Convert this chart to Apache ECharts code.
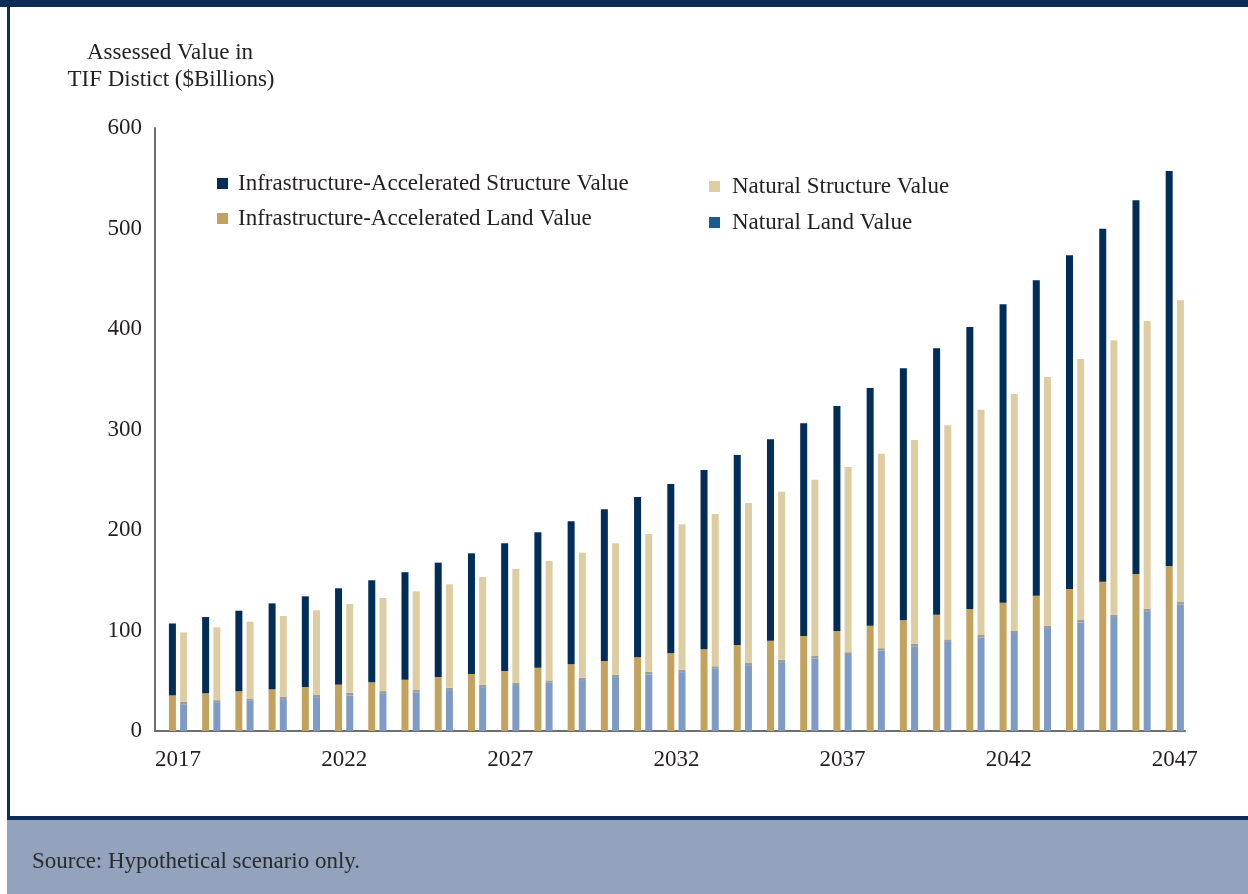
<!DOCTYPE html>
<html><head><meta charset="utf-8">
<script src="https://cdn.jsdelivr.net/npm/echarts@6/dist/echarts.min.js"></script>
<style>html,body{margin:0;padding:0;background:#fff}#c{width:1248px;height:894px}</style>
</head><body><div id="c"></div>
<script>
const years = ['2017','2018','2019','2020','2021','2022','2023','2024','2025','2026','2027','2028','2029','2030','2031','2032','2033','2034','2035','2036','2037','2038','2039','2040','2041','2042','2043','2044','2045','2046','2047'];
const xTickLabels = ['2017','2022','2027','2032','2037','2042','2047'];
const accLand = [35.4,37.5,39.5,41.5,43.8,46.1,48.5,51,53.7,56.7,59.7,63,66.4,69.7,73.3,77.3,81.3,85.6,89.9,94.5,99.5,104.8,110.1,115.7,121.4,127.7,134.6,141.3,148.6,156.2,164.2];
const accStructure = [71.6,75.9,80.2,85.5,90.2,95.9,101.5,107,113.8,120.1,127.1,134.7,142.3,150.9,159.5,168.5,178.4,189,200.3,211.7,223.9,236.5,250.8,265.1,280.6,296.9,313.9,332,351.2,371.8,393];
const natLand = [26,28,30,31.7,33.7,35.3,37,38.3,40.7,43.7,45.7,48,50.7,53.7,56.3,58.6,62,65.5,68.5,72,75.6,80,84.3,88.6,93,97.5,102.5,108,113.4,119.1,125.7];
const natLandCap = [3,2.7,2.3,2.6,2.3,2.7,2.7,2.7,2.3,2.3,2.3,2.3,2.3,2.3,2.7,2.5,2.4,2.6,2.3,2.7,2.7,2.4,2.6,2.5,2.5,2.5,2.5,2.5,2.5,2.6,2.7];
const natStructure = [69.1,72.5,76.5,80.1,84.1,88.4,92.6,98,103,107.2,113.2,118.9,124.4,130.8,137,144.6,151.5,158.8,167.3,175.3,184.4,193.5,202.7,213.1,224.2,235.3,247.2,259.6,272.9,286.3,300.2];

const FONT = 'Liberation Serif';
const FS = 23;
const TXT = '#231f20';
const AXIS = '#6d6d72';

const chart = echarts.init(document.getElementById('c'), null, {renderer: 'canvas'});
const barBase = {type: 'bar', xAxisIndex: 1, yAxisIndex: 1, barWidth: 7, barGap: '60%'};
chart.setOption({
  backgroundColor: '#ffffff',
  animation: false,
  graphic: [
    {type: 'rect', shape: {x: 0, y: 0, width: 1248, height: 7}, style: {fill: '#0b2d57'}, silent: true},
    {type: 'rect', shape: {x: 7, y: 0, width: 3, height: 820}, style: {fill: '#0b2d57'}, silent: true},
    {type: 'rect', shape: {x: 7, y: 816, width: 1241, height: 4}, style: {fill: '#0b2d57'}, silent: true},
    {type: 'rect', shape: {x: 7, y: 820, width: 1241, height: 74}, style: {fill: '#94a3bd'}, silent: true},
    {type: 'text', x: 32, y: 862, style: {text: 'Source: Hypothetical scenario only.', font: FS + 'px "Liberation Serif"', fill: '#2a2a2a', verticalAlign: 'middle'}, silent: true},
    {type: 'text', x: 170, y: 53, style: {text: 'Assessed Value in', font: FS + 'px "Liberation Serif"', fill: TXT, align: 'center', verticalAlign: 'middle'}, silent: true},
    {type: 'text', x: 171, y: 80, style: {text: 'TIF Distict ($Billions)', font: FS + 'px "Liberation Serif"', fill: TXT, align: 'center', verticalAlign: 'middle'}, silent: true}
  ],
  legend: [
    {
      left: 217, top: 172, orient: 'vertical', padding: 0, itemGap: 12,
      itemWidth: 11, itemHeight: 11, icon: 'rect', itemStyle: {borderWidth: 0},
      textStyle: {fontFamily: FONT, fontSize: FS, color: TXT, padding: [0, 0, 0, 5]},
      data: ['Infrastructure-Accelerated Structure Value', 'Infrastructure-Accelerated Land Value']
    },
    {
      left: 709, top: 175, orient: 'vertical', padding: 0, itemGap: 13,
      itemWidth: 11, itemHeight: 11, icon: 'rect', itemStyle: {borderWidth: 0},
      textStyle: {fontFamily: FONT, fontSize: FS, color: TXT, padding: [0, 0, 0, 7]},
      data: [{name: 'Natural Structure Value'}, {name: 'Natural Land Value', itemStyle: {color: '#1e5a92'}}]
    }
  ],
  grid: [
    {left: 155, right: 63, top: 128, bottom: 163},
    {left: 161.4, right: 56.6, top: 128, bottom: 163}
  ],
  xAxis: [
    {
      gridIndex: 0, type: 'value', min: 0, max: 1,
      axisLine: {show: true, lineStyle: {color: AXIS, width: 2}},
      axisTick: {show: false}, splitLine: {show: false}, axisLabel: {show: false}
    },
    {
      gridIndex: 1, type: 'category', data: years,
      axisLine: {show: false}, axisTick: {show: false}, splitLine: {show: false},
      axisLabel: {interval: (i, v) => xTickLabels.includes(v), fontFamily: FONT, fontSize: FS, color: TXT, margin: 17}
    }
  ],
  yAxis: [
    {
      gridIndex: 0, type: 'value', min: 0, max: 600, interval: 100,
      axisLine: {show: true, lineStyle: {color: AXIS, width: 2}},
      axisTick: {show: false}, splitLine: {show: false},
      axisLabel: {fontFamily: FONT, fontSize: FS, color: TXT, margin: 13}
    },
    {
      gridIndex: 1, type: 'value', min: 0, max: 600, interval: 100,
      axisLine: {show: false}, axisTick: {show: false}, splitLine: {show: false}, axisLabel: {show: false}
    }
  ],
  series: [
    Object.assign({}, barBase, {name: 'Infrastructure-Accelerated Land Value', stack: 'acc', data: accLand, itemStyle: {color: '#c3a25e'}}),
    Object.assign({}, barBase, {name: 'Infrastructure-Accelerated Structure Value', stack: 'acc', data: accStructure, itemStyle: {color: '#022d57'}}),
    Object.assign({}, barBase, {name: 'Natural Land Value', stack: 'nat', data: natLand, itemStyle: {color: '#7e9bc5'}}),
    Object.assign({}, barBase, {name: 'natLandCap', stack: 'nat', data: natLandCap, itemStyle: {color: '#9c9c98'}, silent: true}),
    Object.assign({}, barBase, {name: 'Natural Structure Value', stack: 'nat', data: natStructure, itemStyle: {color: '#decca2'}})
  ]
});
</script></body></html>
